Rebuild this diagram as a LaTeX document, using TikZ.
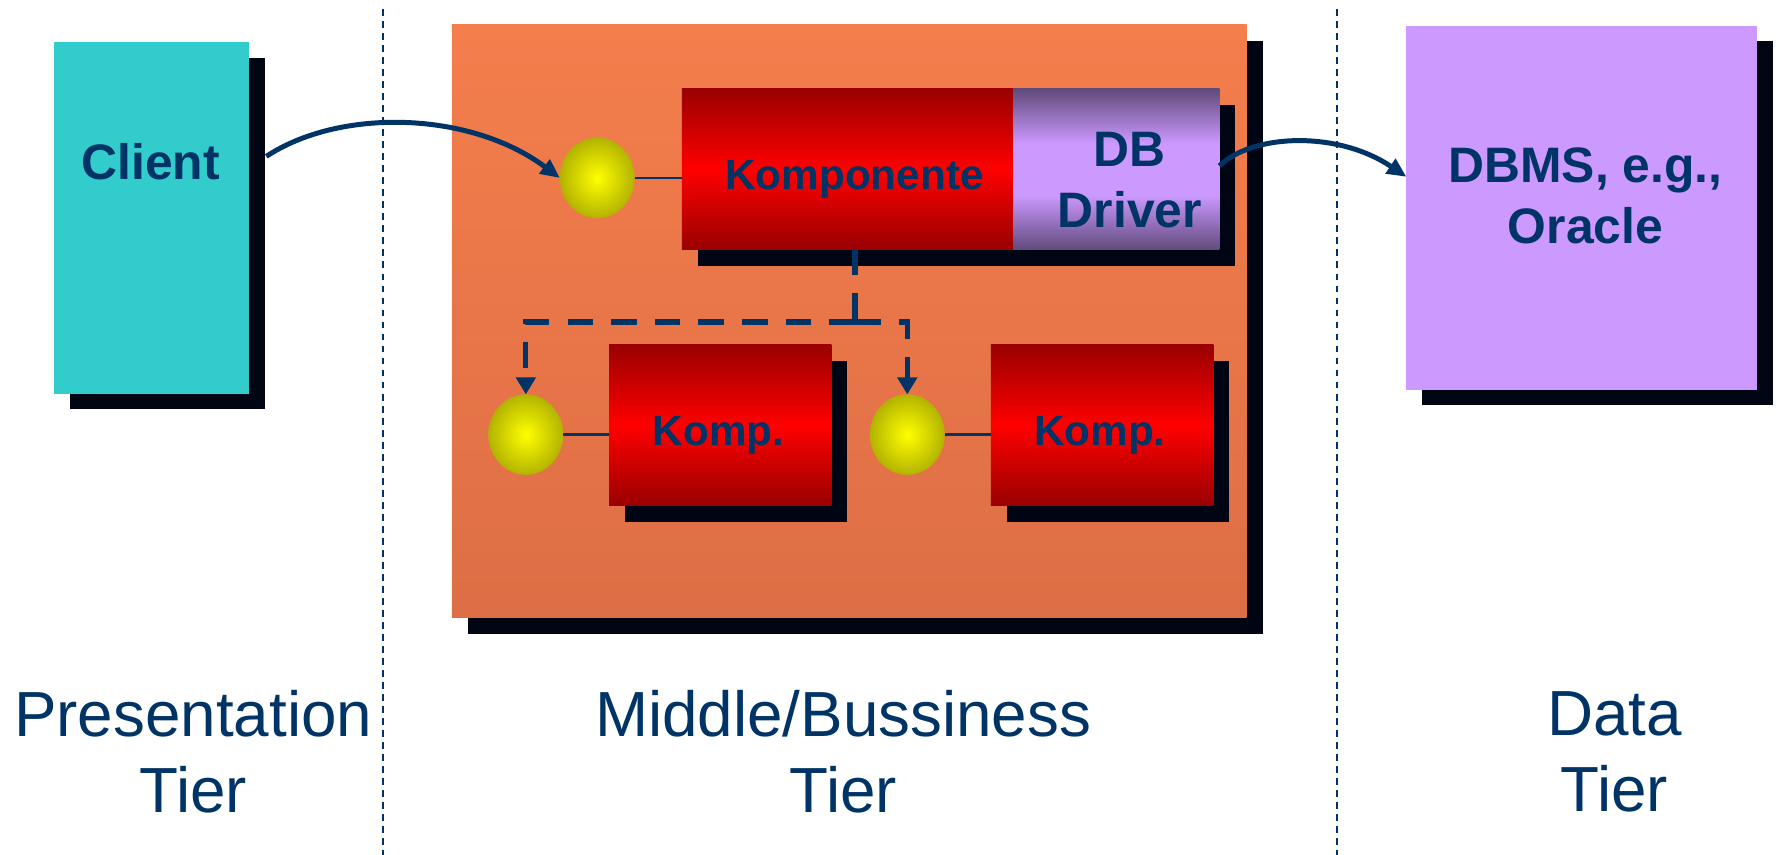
\documentclass[tikz,border=0pt]{standalone}
\usepackage{fontspec}
\setmainfont{Liberation Sans}
\usepackage{tikz}
\usetikzlibrary{arrows.meta,shadows,shapes.geometric}

\definecolor{navy}{RGB}{0,51,102}
\definecolor{clientcyan}{RGB}{51,204,204}
\definecolor{shadowblack}{RGB}{0,5,20}
\definecolor{orangetop}{RGB}{244,126,76}
\definecolor{orangebot}{RGB}{221,110,69}
\definecolor{kompdark}{RGB}{153,0,0}
\definecolor{kompred}{RGB}{255,0,0}
\definecolor{drvdark}{RGB}{96,74,123}
\definecolor{lilac}{RGB}{204,153,255}
\definecolor{knobolive}{RGB}{179,179,0}

\pgfdeclareverticalshading{drivershade}{100bp}{color(0bp)=(drvdark); color(25bp)=(drvdark); color(42bp)=(lilac); color(58bp)=(lilac); color(75bp)=(drvdark); color(100bp)=(drvdark)}

\tikzset{
  box/.style={rectangle, inner sep=0pt, outer sep=0pt},
  shadowed/.style={drop shadow={shadow xshift=0.14cm, shadow yshift=-0.14cm, fill=shadowblack, opacity=1}},
  knob/.style={ellipse, minimum width=0.66cm, minimum height=0.71cm, inner sep=0pt, outer sep=0pt, inner color=yellow, outer color=knobolive},
  komp/.style={box, shadowed, minimum width=1.96cm, minimum height=1.42cm, top color=kompdark, bottom color=kompdark, middle color=kompred},
  boldtxt/.style={text=navy, font=\fontsize{12.5}{15.4}\selectfont\bfseries, align=center, inner sep=0pt},
  komptxt/.style={text=navy, font=\fontsize{10.6}{13}\selectfont\bfseries, inner sep=0pt},
  tiertxt/.style={text=navy, font=\fontsize{16}{19}\selectfont, align=center, inner sep=0pt},
  tierline/.style={navy, line width=0.5pt, dash pattern=on 0.06cm off 0.046cm},
  flow/.style={navy, line width=1.25pt, -{Triangle[length=0.17cm,width=0.15cm]}},
  call/.style={navy, line width=1.33pt, dash pattern=on 0.226cm off 0.159cm, -{Triangle[length=0.15cm,width=0.17cm]}},
  wire/.style={navy, line width=0.6pt}
}

\begin{document}
\begin{tikzpicture}[x=0.01cm, y=-0.01cm]
    \useasboundingbox (0,0) rectangle (1568,754);
    \draw[tierline] (338,8) -- (338,754);
    \draw[tierline] (1180,8) -- (1180,754);

    \node[box, shadowed, fill=clientcyan, minimum width=1.72cm, minimum height=3.10cm] (client) at (133.7,192.2) {};
    \node[boldtxt] (clienttxt) at (133,143) {Client};

    \node[box, shadowed, top color=orangetop, bottom color=orangebot, minimum width=7.01cm, minimum height=5.23cm] (middle) at (749.4,283.5) {};
    \node[komp, minimum width=2.92cm] (komponente) at (747.8,149.4) {};
    \node[box, shadowed, shading=drivershade, minimum width=1.82cm, minimum height=1.42cm, anchor=west] (driver) at (komponente.east) {};
    \node[komptxt, anchor=base] (komponentetxt) at (754,167) {Komponente};
    \node[boldtxt] (drivertxt) at (997,159) {DB\\Driver};
    \node[knob] (ctop) at (527,157) {};

    \node[knob] (cleft) at (464,383.5) {};
    \node[komp] (kompa) at (635.6,375.3) {};
    \node[komptxt, anchor=base] (kompatxt) at (634,393.5) {Komp.};
    \node[knob] (cright) at (800.6,383.5) {};
    \node[komp] (kompb) at (972.5,375.3) {};
    \node[komptxt, anchor=base] (kompbtxt) at (970.6,393.5) {Komp.};

    \node[box, shadowed, fill=lilac, minimum width=3.10cm, minimum height=3.21cm] (dbms) at (1395.5,183.2) {};
    \node[boldtxt] (dbmstxt) at (1399,173) {DBMS, e.g.,\\Oracle};

    \coordinate (clientport) at (235,138);
    \draw[flow] (clientport) .. controls (300,95) and (415,98) .. (ctop.west);
    \draw[wire] (ctop.east) -- (ctop.east -| komponente.west);
    \coordinate (dbmsport) at (1241,156);
    \draw[flow] ([yshift=0.03cm]driver.east) .. controls (1105,118) and (1180,115) .. (dbmsport);

    \coordinate (fork) at (754.5,284);
    \draw[call, -] (komponente.south -| fork) -- (fork);
    \draw[call] (fork) -| (cleft);
    \draw[call] (fork) -| (cright);
    \draw[wire] (cleft.east) -- (cleft.east -| kompa.west);
    \draw[wire] (cright.east) -- (cright.east -| kompb.west);

    \node[tiertxt] (presentation) at (170.5,663.5) {Presentation\\Tier};
    \node[tiertxt] (business) at (744,663.5) {Middle/Bussiness\\Tier};
    \node[tiertxt] (data) at (1424.5,663.5) {Data\\Tier};
\end{tikzpicture}
\end{document}
